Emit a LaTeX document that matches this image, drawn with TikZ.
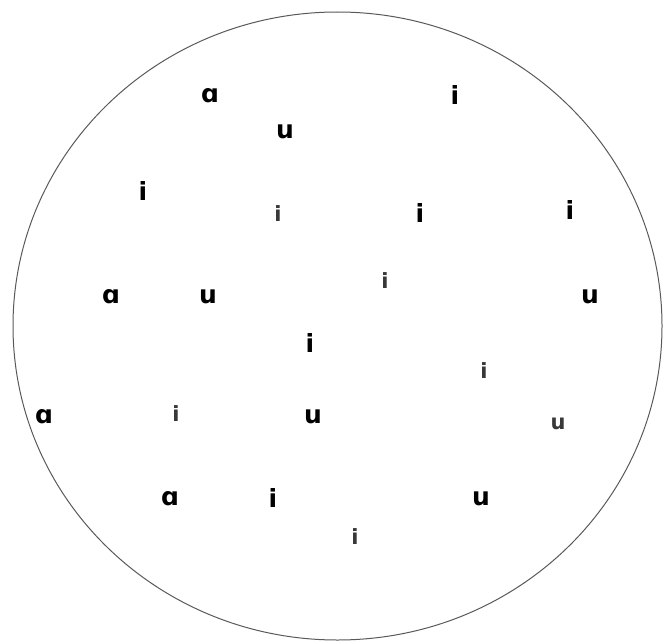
\documentclass[tikz,border=0pt]{standalone}
\usepackage{fontspec}
\newfontfamily\letterfont{DejaVu Sans}
\begin{document}
\begin{tikzpicture}[x=1pt,y=-1pt,
  bigl/.style={font=\letterfont\bfseries\fontsize{25}{25}\selectfont, inner sep=0pt, text=black},
  smalll/.style={font=\letterfont\bfseries\fontsize{21}{21}\selectfont, inner sep=0pt, text=black!78},
  rim/.style={draw=black!65, line width=1pt}]
\useasboundingbox (0,0) rectangle (666,642);
\draw[rim] (337.5,326) ellipse [x radius=324.5, y radius=314];
\node[bigl] (a1) at (210,96) {ɑ};
\node[bigl] (i1) at (455,95) {i};
\node[bigl] (u1) at (285,132) {u};
\node[bigl] (i2) at (143,191) {i};
\node[smalll] (i3) at (278,214) {i};
\node[bigl] (i4) at (420,213) {i};
\node[bigl] (i5) at (570,210) {i};
\node[bigl] (a2) at (111,297) {ɑ};
\node[bigl] (u2) at (208,297) {u};
\node[smalll] (i6) at (385,281) {i};
\node[bigl] (u3) at (590,297) {u};
\node[bigl] (i7) at (310,343) {i};
\node[smalll] (i8) at (484,371) {i};
\node[bigl] (a3) at (44,417) {ɑ};
\node[smalll] (i9) at (176,414) {i};
\node[bigl] (u4) at (313,417) {u};
\node[smalll] (u5) at (558,424) {u};
\node[bigl] (a4) at (170,499) {ɑ};
\node[bigl] (i10) at (273,498) {i};
\node[bigl] (u6) at (481,499) {u};
\node[smalll] (i11) at (355,537) {i};
\end{tikzpicture}
\end{document}
